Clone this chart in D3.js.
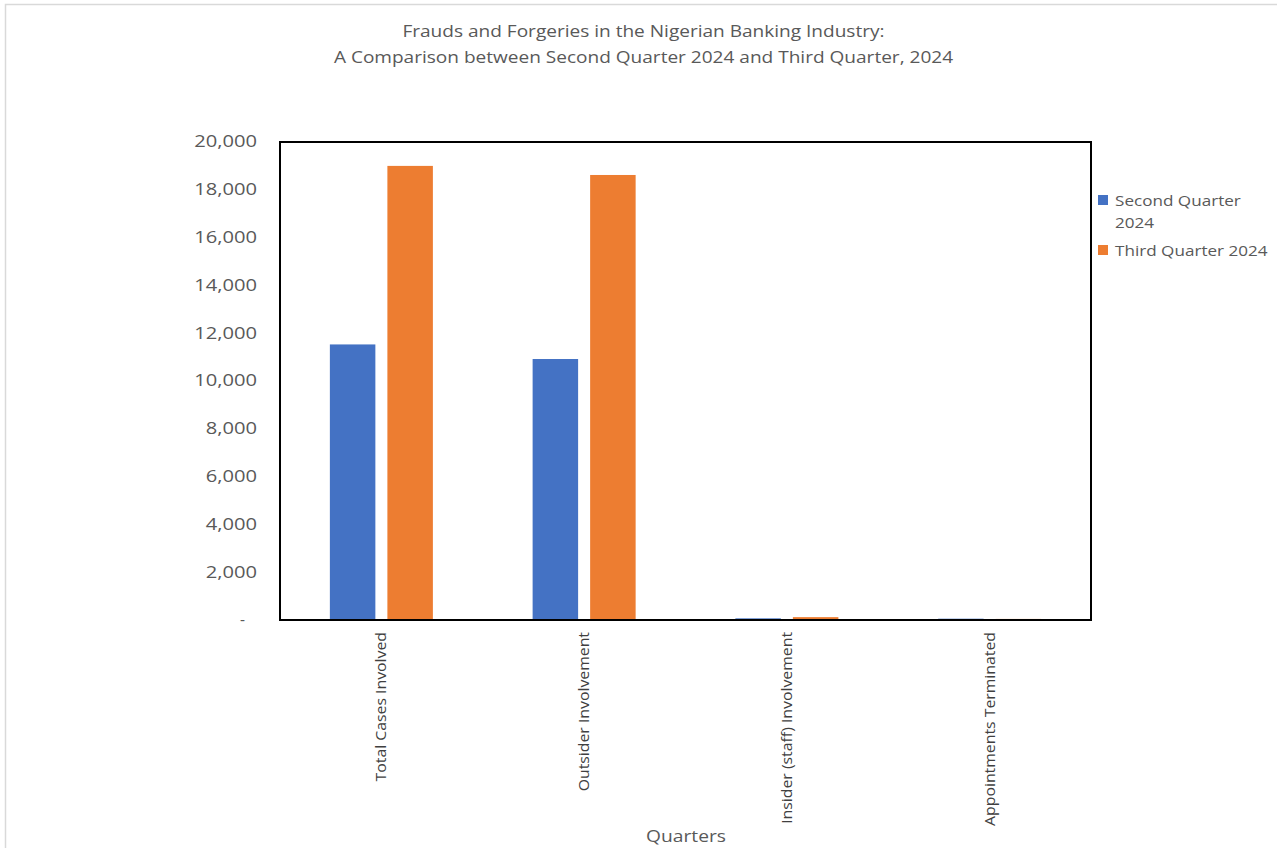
<!DOCTYPE html>
<html>
<head>
<meta charset="utf-8">
<script src="https://cdn.jsdelivr.net/npm/d3@7"></script>
<style>
  html, body { margin: 0; padding: 0; background: #ffffff; }
  svg { display: block; }
  text { font-family: "Open Sans", "Noto Sans", sans-serif; }
</style>
</head>
<body>
<svg id="chart" width="1277" height="848"></svg>
<script>
// Fraud and forgery counts, Q2 vs Q3 2024
const categories = [
  "Total Cases Involved",
  "Outsider Involvement",
  "Insider (staff) Involvement",
  "Appointments Terminated"
];
const seriesNames = ["Second Quarter 2024", "Third Quarter 2024"];
const secondQuarter = [11530, 10920, 70, 55];
const thirdQuarter = [19000, 18620, 120, 45];
const yTicks = [0, 2000, 4000, 6000, 8000, 10000, 12000, 14000, 16000, 18000, 20000];
const titleLines = [
  "Frauds and Forgeries in the Nigerian Banking Industry:",
  "A Comparison between Second Quarter 2024 and Third Quarter, 2024"
];
const xAxisTitle = "Quarters";
const colors = ["#4472C4", "#ED7D31"];

const svg = d3.select("#chart");

// widen glyphs horizontally by a factor, keeping anchor
function widen(sel, factor) {
  sel.each(function () {
    const w = this.getComputedTextLength();
    d3.select(this)
      .attr("textLength", w * factor)
      .attr("lengthAdjust", "spacingAndGlyphs");
  });
}

// outer chart frame
svg.append("rect")
  .attr("x", 5.5).attr("y", 4.5)
  .attr("width", 1290).attr("height", 860)
  .attr("fill", "#fff")
  .attr("stroke", "#d9d9d9").attr("stroke-width", 1.5);

const plot = { left: 280, top: 142, right: 1091, bottom: 620 };

const x0 = d3.scaleBand()
  .domain(categories)
  .range([plot.left, plot.right])
  .paddingInner(0).paddingOuter(0);

const x1 = d3.scaleBand()
  .domain(seriesNames)
  .range([0, x0.bandwidth()])
  .paddingInner(0.209)
  .paddingOuter(0.867);

const y = d3.scaleLinear()
  .domain([0, 20000])
  .range([plot.bottom, plot.top]);

// title
const title = svg.append("g").selectAll("text")
  .data(titleLines)
  .join("text")
  .attr("x", 643.5)
  .attr("y", (d, i) => 37 + i * 26)
  .attr("text-anchor", "middle")
  .attr("font-size", 16)
  .attr("fill", "#595959")
  .text(d => d);
widen(title, 1.19);

// bars
const rows = categories.map((c, i) => ({ c, vals: [secondQuarter[i], thirdQuarter[i]] }));
const groups = svg.append("g").selectAll("g")
  .data(rows)
  .join("g")
  .attr("transform", d => `translate(${x0(d.c)},0)`);

groups.selectAll("rect")
  .data(d => d.vals.map((v, k) => ({ name: seriesNames[k], v, k })))
  .join("rect")
  .attr("x", d => x1(d.name))
  .attr("width", x1.bandwidth())
  .attr("y", d => y(d.v))
  .attr("height", d => y(0) - y(d.v))
  .attr("fill", d => colors[d.k]);

// y axis
const yAxis = d3.axisLeft(y)
  .tickValues(yTicks)
  .tickSize(0)
  .tickPadding(23)
  .tickFormat(d => d === 0 ? "-" : d3.format(",")(d));

const yg = svg.append("g")
  .attr("transform", `translate(${plot.left},0)`)
  .call(yAxis);
yg.select(".domain").remove();
const yLabels = yg.selectAll("text")
  .attr("font-size", 15.5)
  .attr("fill", "#595959")
  .attr("font-family", "'Open Sans', sans-serif");
yLabels.filter(d => d === 0).attr("dx", -12);
widen(yLabels.filter(d => d !== 0), 1.3);

// x axis
const xAxis = d3.axisBottom(x0).tickSize(0).tickPadding(12);
const xg = svg.append("g")
  .attr("transform", `translate(0,${plot.bottom})`)
  .call(xAxis);
xg.select(".domain").remove();
const xLabels = xg.selectAll("text")
  .attr("transform", "rotate(-90)")
  .attr("text-anchor", "end")
  .attr("x", -12)
  .attr("y", 0)
  .attr("dy", "0.35em")
  .attr("font-size", 14.5)
  .attr("fill", "#404040")
  .attr("font-family", "'Open Sans', sans-serif");
widen(xLabels, 1.09);

// plot frame
svg.append("rect")
  .attr("x", plot.left).attr("y", plot.top)
  .attr("width", plot.right - plot.left)
  .attr("height", plot.bottom - plot.top)
  .attr("fill", "none")
  .attr("stroke", "#000")
  .attr("stroke-width", 2);

// x axis title
const xt = svg.append("text")
  .attr("x", 686).attr("y", 842)
  .attr("text-anchor", "middle")
  .attr("font-size", 17)
  .attr("fill", "#595959")
  .text(xAxisTitle);
widen(xt, 1.13);

// legend
const legendLines = [["Second Quarter", "2024"], ["Third Quarter 2024"]];
const legendTop = [195, 245];
const lg = svg.append("g");
legendLines.forEach((lines, i) => {
  lg.append("rect")
    .attr("x", 1098).attr("y", legendTop[i])
    .attr("width", 10).attr("height", 10)
    .attr("fill", colors[i]);
  lines.forEach((t, j) => {
    const lt = lg.append("text")
      .attr("x", 1115)
      .attr("y", legendTop[i] + 11 + j * 22)
      .attr("font-size", 15)
      .attr("fill", "#595959")
      .text(t);
    widen(lt, 1.14);
  });
});
</script>
</body>
</html>
